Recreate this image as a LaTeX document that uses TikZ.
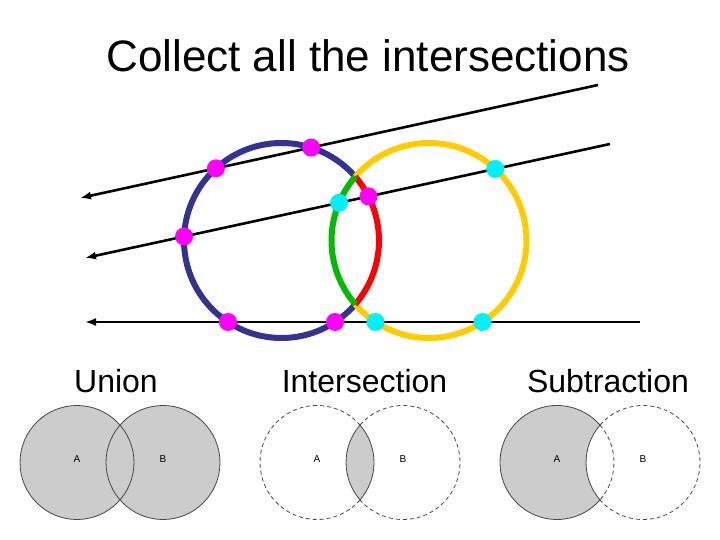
\documentclass[tikz,border=0pt]{standalone}
\usepackage{fontspec}
\setmainfont{Liberation Sans}
\usetikzlibrary{arrows.meta,intersections}
\definecolor{ringblue}{RGB}{51,51,145}
\definecolor{ringyellow}{RGB}{255,204,0}
\definecolor{ringgreen}{RGB}{0,187,0}
\definecolor{ringred}{RGB}{255,0,0}
\definecolor{hitpink}{RGB}{255,0,255}
\definecolor{hitcyan}{RGB}{0,240,245}
\definecolor{vennfill}{RGB}{204,204,204}
\definecolor{vennline}{RGB}{70,70,70}
\tikzset{ring/.style={line width=6pt},
ray/.style={line width=2.6pt,-{Latex[length=11pt,width=8pt]}},
venn/.style={draw=vennline,line width=0.8pt},
%dashed outline for the parts that are left out
ghost/.style={venn,dash pattern=on 4pt off 3pt}}

\begin{document}
\begin{tikzpicture}[x=1pt,y=-1pt]
\useasboundingbox (0,0) rectangle (720,540);
% title
\node[anchor=base,font=\fontsize{44}{50}\selectfont] (title) at (368,72) {Collect all the intersections};

% the two rings
\coordinate (bc) at (281.5,240.5);
\coordinate (yc) at (429,240.5);
\path[name path=bluec] (bc) circle (97.5);
\path[name path=yellowc] (yc) circle (97.5);
\draw[ring,ringblue] ([shift={(40.9:97.5)}]bc) arc[start angle=40.9,end angle=319.1,radius=97.5];
\draw[ring,ringyellow] ([shift={(220.9:97.5)}]yc) arc[start angle=220.9,end angle=499.1,radius=97.5];
\draw[ring,ringred] ([shift={(-40.9:97.5)}]bc) arc[start angle=-40.9,end angle=40.9,radius=97.5];
\draw[ring,ringgreen] ([shift={(139.1:97.5)}]yc) arc[start angle=139.1,end angle=220.9,radius=97.5];

% rays
\coordinate (r1s) at (598,85);
\coordinate (r1e) at (80,198);
\coordinate (r2s) at (610,144);
\coordinate (r2e) at (85,258);
\coordinate (r3s) at (640,322);
\coordinate (r3e) at (85,322);
\foreach \r in {r1,r2,r3}
     \draw[ray,name path global=\r] (\r s) -- (\r e);

% hits
\foreach \r in {r1,r2,r3}
     \fill[hitpink,name intersections={of=bluec and \r,total=\n}] \foreach \k in {1,...,\n}{(intersection-\k) circle (9)};
\foreach \r in {r2,r3}
     \fill[hitcyan,name intersections={of=yellowc and \r,total=\n}] \foreach \k in {1,...,\n}{(intersection-\k) circle (9)};

% panels
\node[anchor=base,font=\fontsize{32}{36}\selectfont] (union) at (116,392) {Union};
\node[anchor=base,font=\fontsize{32}{36}\selectfont] (inter) at (364.5,392) {Intersection};
\node[anchor=base,font=\fontsize{32}{36}\selectfont] (subtr) at (608,392) {Subtraction};

\foreach \p/\x in {u/77,i/317,s/557}{
     \coordinate (\p A) at (\x,462.5);
     \coordinate (\p B) at (\x+86,462.5);
}

% union
\fill[vennfill] (uA) circle (57) (uB) circle (57);
\draw[venn] (uA) circle (57) (uB) circle (57);

% intersection
\draw[ghost] ([shift={(41:57)}]iA) arc[start angle=41,end angle=319,radius=57];
\draw[ghost] ([shift={(221:57)}]iB) arc[start angle=221,end angle=499,radius=57];
\filldraw[venn,fill=vennfill] ([shift={(-41:57)}]iA) arc[start angle=-41,end angle=41,radius=57]
     arc[start angle=139,end angle=221,radius=57] -- cycle;

% subtraction
\filldraw[venn,fill=vennfill] ([shift={(41:57)}]sA) arc[start angle=41,end angle=319,radius=57]
     arc[start angle=221,end angle=139,radius=57] -- cycle;
\draw[ghost] ([shift={(-41:57)}]sA) arc[start angle=-41,end angle=41,radius=57];
\draw[ghost] ([shift={(221:57)}]sB) arc[start angle=221,end angle=499,radius=57];

\foreach \p/\x in {u/77,i/317,s/557}{
     \node[font=\fontsize{10}{11}\selectfont] (\p la) at (\x,459) {A};
     \node[font=\fontsize{10}{11}\selectfont] (\p lb) at (\x+86,459) {B};
}
\end{tikzpicture}
\end{document}
